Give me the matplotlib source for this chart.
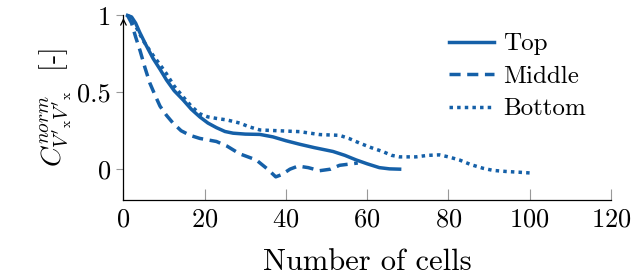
import matplotlib
matplotlib.use("Agg")
import matplotlib.pyplot as plt

plt.rcParams["font.family"] = "serif"
plt.rcParams["font.serif"] = ["cmr10"]
plt.rcParams["mathtext.fontset"] = "cm"
plt.rcParams["axes.formatter.use_mathtext"] = True

BLUE = "#1560a8"

# Top (solid)
top_x = [1, 2, 3, 4, 5.5, 7.3, 9, 10.6, 12.5, 14.7, 16.7, 18.8, 20.8, 22.9, 25, 27,
         30, 33.6, 36.8, 40, 43.4, 47, 51.6, 54.5, 57.3, 60, 63, 65.5, 68]
top_y = [1.0, 0.99, 0.95, 0.89, 0.81, 0.72, 0.65, 0.58, 0.51, 0.45, 0.39, 0.34, 0.30,
         0.27, 0.245, 0.234, 0.228, 0.226, 0.21, 0.185, 0.162, 0.14, 0.115, 0.09, 0.06,
         0.035, 0.01, 0.002, 0.0]

# Middle (dashed)
mid_x = [1, 2, 3, 4.1, 5.3, 6.5, 7.8, 9, 10.6, 12.2, 14.2, 16.4, 18.8, 22.9, 25.5,
         28.6, 32.7, 35.5, 37.5, 39, 41, 43, 45.5, 48.3, 51, 53.2, 57.7]
mid_y = [1.0, 0.95, 0.86, 0.77, 0.66, 0.56, 0.48, 0.41, 0.35, 0.30, 0.25, 0.22, 0.20,
         0.18, 0.15, 0.10, 0.06, 0.0, -0.05, -0.035, 0.0, 0.02, 0.01, -0.01, 0.0, 0.025,
         0.04]

# Bottom (dotted)
bot_x = [1, 2, 3, 5, 7.3, 9, 10.6, 12.5, 14.7, 16.7, 18.8, 20.8, 22.9, 25.5, 28.6, 31,
         33.6, 38, 43.4, 48.3, 53.2, 55.5, 58.1, 61, 63.9, 66, 68, 72, 75, 77.8, 80,
         82.7, 85.5, 88.5, 91, 94.2, 97.5, 100.8]
bot_y = [1.0, 0.98, 0.93, 0.83, 0.74, 0.68, 0.62, 0.54, 0.47, 0.41, 0.36, 0.34, 0.33,
         0.32, 0.30, 0.275, 0.255, 0.25, 0.244, 0.225, 0.22, 0.20, 0.17, 0.14, 0.114,
         0.09, 0.08, 0.08, 0.09, 0.093, 0.08, 0.06, 0.03, 0.006, -0.008, -0.015, -0.02,
         -0.026]

x_ticks = [0, 20, 40, 60, 80, 100, 120]
y_ticks = [0, 0.5, 1]
y_tick_labels = ["0", "0.5", "1"]

fig = plt.figure(figsize=(6.33, 2.8), dpi=100)
ax = fig.add_axes([0.195, 0.286, 0.77, 0.659])

lw = 2.5
ax.plot(top_x, top_y, color=BLUE, lw=lw, label="Top", clip_on=False)
ax.plot(mid_x, mid_y, color=BLUE, lw=lw, ls=(0, (3.2, 1.9)), label="Middle", clip_on=False)
ax.plot(bot_x, bot_y, color=BLUE, lw=lw, ls=(0, (1, 1.2)), label="Bottom", clip_on=False)

ax.set_xlim(0, 120)
ax.set_ylim(-0.2, 1.0)
ax.spines["top"].set_visible(False)
ax.spines["right"].set_visible(False)
ax.spines["left"].set_linewidth(0.9)
ax.spines["bottom"].set_linewidth(0.9)

ax.set_xticks(x_ticks)
ax.set_yticks(y_ticks)
ax.set_yticklabels(y_tick_labels)
ax.tick_params(axis="x", direction="in", length=8, width=0.8, color="#999999",
               labelsize=19, pad=6)
ax.tick_params(axis="y", direction="out", length=5, width=0.8, color="#999999",
               labelsize=19, pad=4)

# arrow on top of y axis
ax.annotate("", xy=(0, 1.0), xytext=(0, 0.93), xycoords="data",
            arrowprops=dict(arrowstyle="->", lw=0.9, color="black"),
            annotation_clip=False)

ax.set_xlabel("Number of cells", fontsize=22, labelpad=12)
ax.set_ylabel(r"$C^{norm}_{V'_\mathrm{x}V'_\mathrm{x}}$  [-]", fontsize=20, labelpad=2)

leg = ax.legend(loc="upper left", bbox_to_anchor=(0.648, 0.96), frameon=False,
                fontsize=18, handlelength=1.8, handletextpad=0.35, labelspacing=0.4,
                borderaxespad=0)

fig.savefig("out.png", dpi=100)
